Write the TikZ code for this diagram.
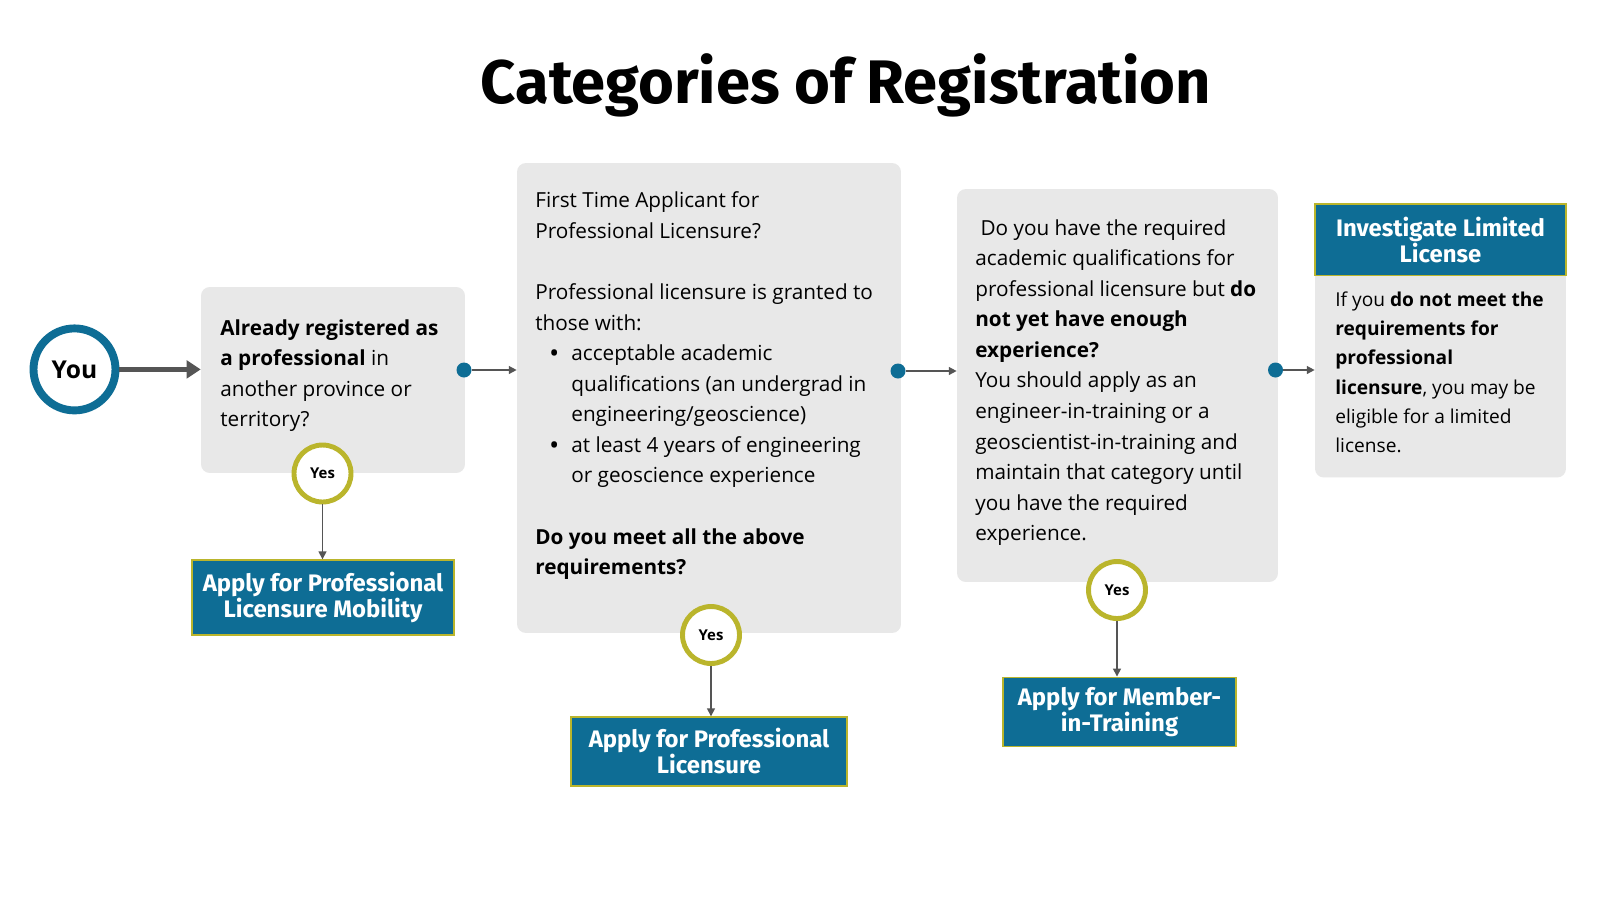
\documentclass[tikz,border=0pt]{standalone}
\usepackage{fontspec}
\setmainfont{Open Sans}
\newfontfamily\headfont{Fira Sans}
\usetikzlibrary{arrows.meta}

\definecolor{regblue}{HTML}{0E6D95}
\definecolor{regolive}{HTML}{BAB52C}
\definecolor{boxgrey}{HTML}{E8E8E8}
\definecolor{arrowgrey}{HTML}{555555}

% bullet and hanging indent for the list
\newcommand{\bitem}{\makebox[20.5pt][l]{\hspace*{8.5pt}\textbf{\textbullet}}}
\newcommand{\bcont}{\hspace*{20.5pt}}

\begin{document}
\begin{tikzpicture}[x=0.02cm, y=-0.02cm,
    greybox/.style={fill=boxgrey, rounded corners=5pt, inner sep=0pt},
    applybox/.style={fill=regblue, draw=regolive, line width=0.8pt, text=white, align=center,
        font=\headfont\bfseries\fontsize{13.6}{14.8}\selectfont, inner sep=0pt},
    bodytext/.style={anchor=north west, inner sep=0pt, align=left,
        font=\fontsize{11.8}{17.4}\selectfont},
    yesring/.style={circle, draw=regolive, line width=2.8pt, fill=white, minimum size=1.14cm,
        inner sep=0pt, font=\bfseries\fontsize{8.5}{9}\selectfont},
    bluedot/.style={circle, fill=regblue, minimum size=0.3cm, inner sep=0pt},
    link/.style={draw=arrowgrey, line width=0.85pt, -{Triangle[length=4.5pt, width=4.5pt]}},
    youarrow/.style={draw=arrowgrey, line width=2.8pt, -{Triangle[length=8pt, width=10pt]}}]

    \useasboundingbox[fill=white] (0,0) rectangle (1600,900);

    % title
    \node[font=\headfont\bfseries\fontsize{35}{40}\selectfont] (title) at (846,85) {Categories of Registration};

    % start
    \node[circle, draw=regblue, line width=4.5pt, fill=white, minimum size=1.64cm, inner sep=0pt,
        font=\bfseries\fontsize{14}{16}\selectfont] (you) at (74.5,369.4) {You};

    % question boxes
    \node[greybox, minimum width=5.28cm, minimum height=3.72cm] (qmob) at (333,380) {};
    \node[greybox, minimum width=7.68cm, minimum height=9.4cm] (qfirst) at (709,398) {};
    \node[greybox, minimum width=6.42cm, minimum height=7.86cm] (qmit) at (1117.5,385.5) {};
    \node[greybox, minimum width=5.02cm, minimum height=5.47cm] (qlim) at (1440.5,340.75) {};
    \node[applybox, minimum width=5.02cm, minimum height=1.43cm] (hlim) at (1440.5,239.75)
        {Investigate Limited\\License};

    \node[bodytext] (tmob) at (220,319) {\textbf{Already registered as}\\
        \textbf{a professional} in\\
        another province or\\
        territory?};

    \node[bodytext] (tfirst) at (535,191.5) {First Time Applicant for\\
        Professional Licensure?\\[17.4pt]
        Professional licensure is granted to\\
        those with:\\
        \bitem acceptable academic\\
        \bcont qualifications (an undergrad in\\
        \bcont engineering/geoscience)\\
        \bitem at least 4 years of engineering\\
        \bcont or geoscience experience\\[17.4pt]
        \textbf{Do you meet all the above}\\
        \textbf{requirements?}};

    \node[bodytext] (tmit) at (975,219) {\hspace*{3pt}Do you have the required\\
        academic qualifications for\\
        professional licensure but \textbf{do}\\
        \textbf{not yet have enough}\\
        \textbf{experience?}\\
        You should apply as an\\
        engineer-in-training or a\\
        geoscientist-in-training and\\
        maintain that category until\\
        you have the required\\
        experience.};

    \node[bodytext, font=\fontsize{10.9}{16.6}\selectfont] (tlim) at (1335,291.5) {If you \textbf{do not meet the}\\
        \textbf{requirements for}\\
        \textbf{professional}\\
        \textbf{licensure}, you may be\\
        eligible for a limited\\
        license.};

    % outcomes
    \node[applybox, minimum width=5.24cm, minimum height=1.5cm] (amob) at (323,597.5)
        {Apply for Professional\\Licensure Mobility};
    \node[applybox, minimum width=5.52cm, minimum height=1.38cm] (afirst) at (709,751.5)
        {Apply for Professional\\Licensure};
    \node[applybox, minimum width=4.66cm, minimum height=1.39cm] (amit) at (1119.5,712)
        {Apply for Member-\\in-Training};

    % yes rings
    \node[yesring] (ymob) at (322.5,473.5) {Yes};
    \node[yesring] (yfirst) at (711,635) {Yes};
    \node[yesring] (ymit) at (1117,590) {Yes};

    % no dots
    \node[bluedot] (dmob) at (464,370) {};
    \node[bluedot] (dfirst) at (898,371) {};
    \node[bluedot] (dmit) at (1275.5,370) {};

    % connectors
    \draw[youarrow] (you) -- (qmob.west |- you);
    \draw[link] (dmob) -- (qfirst.west |- dmob);
    \draw[link] (dfirst) -- (qmit.west |- dfirst);
    \draw[link] (dmit) -- (qlim.west |- dmit);
    \draw[link] (ymob) -- (ymob |- amob.north);
    \draw[link] (yfirst) -- (yfirst |- afirst.north);
    \draw[link] (ymit) -- (ymit |- amit.north);
\end{tikzpicture}
\end{document}
